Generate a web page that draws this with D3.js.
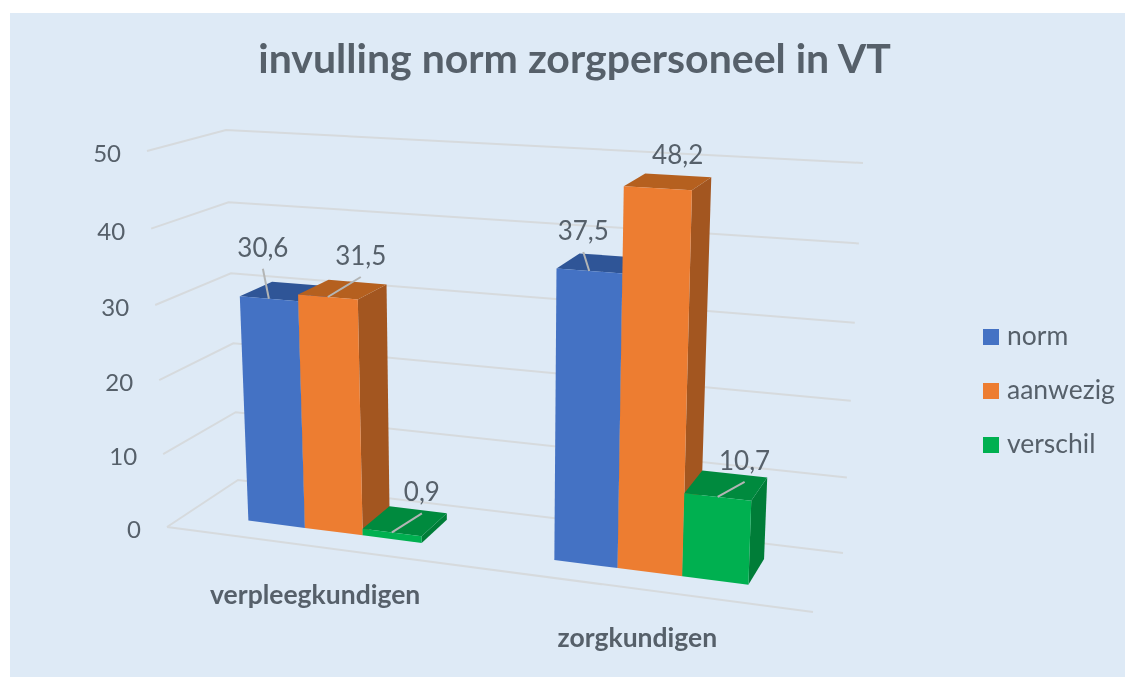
<!DOCTYPE html>
<html>
<head>
<meta charset="utf-8">
<script src="https://cdn.jsdelivr.net/npm/d3@7"></script>
<style>
  body { margin: 0; background: #fff; }
  text { font-family: Lato, "Open Sans", sans-serif; fill: #56606a; }
</style>
</head>
<body>
<script>
// data
var categories = ['verpleegkundigen', 'zorgkundigen'];
var seriesNames = ['norm', 'aanwezig', 'verschil'];
var norm = [30.6, 37.5];
var aanwezig = [31.5, 48.2];
var verschil = [0.9, 10.7];
var valueTicks = [0, 10, 20, 30, 40, 50];

var seriesValues = [norm, aanwezig, verschil];

var width = 1125;
var height = 677;

// colors per series: front, top, side
var faceColors = [
  { front: '#4472c4', top: '#2f5597', side: '#2f5597' },
  { front: '#ed7d31', top: '#b5601f', side: '#a35620' },
  { front: '#00b050', top: '#008a3e', side: '#007d38' }
];

// screen positions of the plot box corners: first floor, then the plane at the axis maximum
var floorBox = { fl: [167, 527], fr: [813, 612], bl: [238, 480], br: [843, 553] };
var topBox = { fl: [147, 151], fr: [830, 193], bl: [226, 130], br: [863, 163] };

// depth of the bars inside the box
var barFront = 0.3;
var barBack = 0.75;

// label offsets from the middle of the front top edge of each bar [category][series]
var labelOffsets = [
  [[-6, -51], [33, -41], [30, -40]],
  [[-6, -40], [20, -33], [27, -36]]
];
var hasLeader = [[true, true, true], [true, false, true]];

var x0 = d3.scaleBand().domain(categories).range([0, 1]).paddingInner(0.42).paddingOuter(0.21);
var x1 = d3.scaleBand().domain(seriesNames).range([0, x0.bandwidth()]);
var yRange = d3.scaleLinear().domain([0, 50]).range([0, 1]);

function warp(t, w) {
  return t / (w * (1 - t) + t);
}

function lerp(a, b, t) {
  return [a[0] + (b[0] - a[0]) * t, a[1] + (b[1] - a[1]) * t];
}

// perspective-like projection: u along the categories, value upward, z into the depth
function project(t, value, z) {
  var u = warp(t, 1.12);
  var v = warp(yRange(value), 1.04);
  var bottom = lerp(lerp(floorBox.fl, floorBox.fr, u), lerp(floorBox.bl, floorBox.br, u), z);
  var top = lerp(lerp(topBox.fl, topBox.fr, u), lerp(topBox.bl, topBox.br, u), z);
  return lerp(bottom, top, v);
}

var svg = d3.select('body').append('svg')
  .attr('width', width)
  .attr('height', height)
  .style('display', 'block');

svg.append('rect')
  .attr('x', 10)
  .attr('y', 13)
  .attr('width', width - 10)
  .attr('height', height - 13)
  .attr('fill', '#deeaf6');

var chart = svg.append('g').style('filter', 'blur(0.6px)');

chart.append('text')
  .attr('x', 574.5)
  .attr('y', 73)
  .attr('text-anchor', 'middle')
  .style('font-size', '41px')
  .style('font-weight', 700)
  .text('invulling norm zorgpersoneel in VT');

// gridlines: left wall and back wall
var line = d3.line();
var grid = chart.append('g')
  .attr('fill', 'none')
  .attr('stroke', '#d6dadd')
  .attr('stroke-width', 2);

grid.selectAll('path.wall')
  .data(valueTicks)
  .enter()
  .append('path')
  .attr('class', 'wall')
  .attr('d', function (d) {
    return line([project(0, d, 0), project(0, d, 1), project(1, d, 1)]);
  });

// front edge of the floor
grid.append('path')
  .attr('d', line([project(0, 0, 0), project(1, 0, 0)]));

// value axis labels
chart.selectAll('text.tick')
  .data(valueTicks)
  .enter()
  .append('text')
  .attr('class', 'tick')
  .attr('x', function (d) { return project(0, d, 0)[0] - 26; })
  .attr('y', function (d) { return project(0, d, 0)[1] + 11; })
  .attr('text-anchor', 'end')
  .style('font-size', '24px')
  .text(function (d) { return d; });

// bars, painted from left to right
var barList = [];
categories.forEach(function (cat, c) {
  seriesNames.forEach(function (name, s) {
    barList.push({ c: c, s: s, cat: cat, name: name, value: seriesValues[s][c] });
  });
});

function barLeft(d) { return x0(d.cat) + x1(d.name); }
function barRight(d) { return barLeft(d) + x1.bandwidth(); }

var bars = chart.selectAll('g.bar')
  .data(barList)
  .enter()
  .append('g')
  .attr('class', 'bar');

// right side
bars.append('path')
  .attr('fill', function (d) { return faceColors[d.s].side; })
  .attr('d', function (d) {
    var r = barRight(d);
    return line([project(r, 0, barFront), project(r, 0, barBack), project(r, d.value, barBack), project(r, d.value, barFront)]) + 'Z';
  });

// top
bars.append('path')
  .attr('fill', function (d) { return faceColors[d.s].top; })
  .attr('d', function (d) {
    var l = barLeft(d), r = barRight(d);
    return line([project(l, d.value, barFront), project(r, d.value, barFront), project(r, d.value, barBack), project(l, d.value, barBack)]) + 'Z';
  });

// front
bars.append('path')
  .attr('fill', function (d) { return faceColors[d.s].front; })
  .attr('d', function (d) {
    var l = barLeft(d), r = barRight(d);
    return line([project(l, 0, barFront), project(r, 0, barFront), project(r, d.value, barFront), project(l, d.value, barFront)]) + 'Z';
  });

// data labels with leader lines
function labelAnchor(d) {
  return project((barLeft(d) + barRight(d)) / 2, d.value, barFront);
}

chart.selectAll('path.leader')
  .data(barList.filter(function (d) { return hasLeader[d.c][d.s]; }))
  .enter()
  .append('path')
  .attr('class', 'leader')
  .attr('fill', 'none')
  .attr('stroke', '#b3b5b5')
  .attr('stroke-width', 2)
  .attr('d', function (d) {
    var a = labelAnchor(d);
    var off = labelOffsets[d.c][d.s];
    return line([[a[0] + off[0], a[1] + off[1] + 21], a]);
  });

chart.selectAll('text.value')
  .data(barList)
  .enter()
  .append('text')
  .attr('class', 'value')
  .attr('x', function (d) { return labelAnchor(d)[0] + labelOffsets[d.c][d.s][0]; })
  .attr('y', function (d) { return labelAnchor(d)[1] + labelOffsets[d.c][d.s][1] + 9; })
  .attr('text-anchor', 'middle')
  .style('font-size', '26px')
  .text(function (d) { return String(d.value).replace('.', ','); });

// category labels
chart.selectAll('text.cat')
  .data(categories)
  .enter()
  .append('text')
  .attr('class', 'cat')
  .attr('x', function (d) { return project(x0(d) + x0.bandwidth() / 2, 0, 0)[0]; })
  .attr('y', function (d) { return project(x0(d) + x0.bandwidth() / 2, 0, 0)[1] + 58; })
  .attr('text-anchor', 'middle')
  .style('font-size', '26.5px')
  .style('font-weight', 700)
  .text(function (d) { return d; });

// legend
var legendY = d3.scalePoint().domain(seriesNames).range([345, 453]);
var legend = chart.selectAll('g.legend')
  .data(seriesNames)
  .enter()
  .append('g')
  .attr('class', 'legend')
  .attr('transform', function (d) { return 'translate(983,' + legendY(d) + ')'; });

legend.append('rect')
  .attr('y', -16)
  .attr('width', 16)
  .attr('height', 16)
  .attr('fill', function (d, i) { return faceColors[i].front; });

legend.append('text')
  .attr('x', 24)
  .style('font-size', '26.5px')
  .text(function (d) { return d; });
</script>
</body>
</html>
